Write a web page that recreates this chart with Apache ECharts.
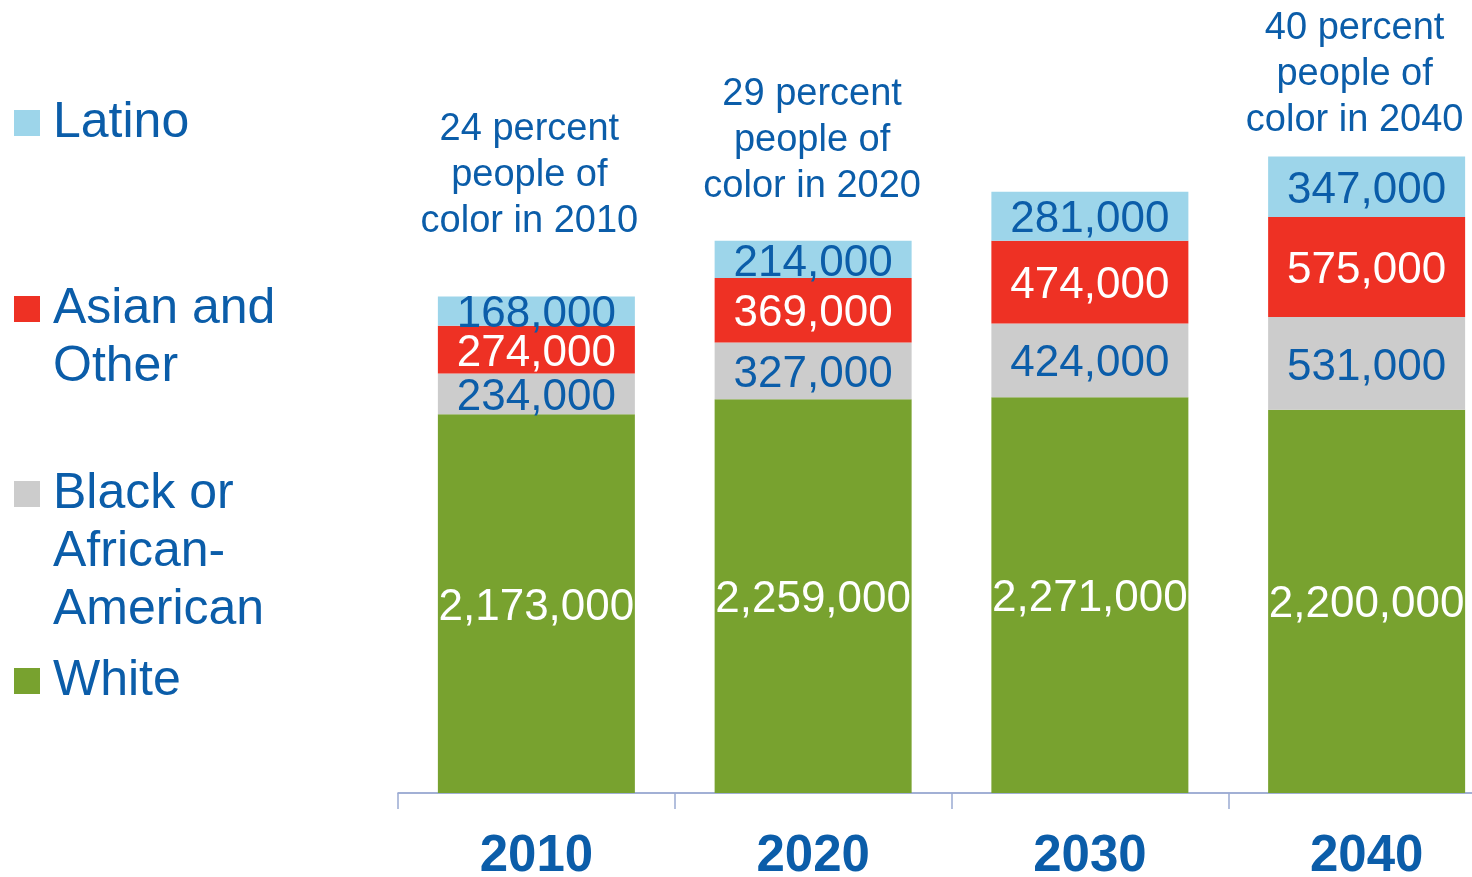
<!DOCTYPE html>
<html>
<head>
<meta charset="utf-8">
<script src="https://cdn.jsdelivr.net/npm/echarts@6/dist/echarts.min.js"></script>
<style>
html,body{margin:0;padding:0;background:#fff;}
#chart{width:1472px;height:877px;}
</style>
</head>
<body>
<div id="chart"></div>
<script>
const categories = ['2010', '2020', '2030', '2040'];
const seriesNames = ['Latino', 'Asian and\nOther', 'Black or\nAfrican-\nAmerican', 'White'];
const white = [2173000, 2259000, 2271000, 2200000];
const black = [234000, 327000, 424000, 531000];
const asian = [274000, 369000, 474000, 575000];
const latino = [168000, 214000, 281000, 347000];
const annotations = ['24 percent\npeople of\ncolor in 2010', '29 percent\npeople of\ncolor in 2020', '', '40 percent\npeople of\ncolor in 2040'];

const BLUE = '#0b5da9';
const FONT = '"Liberation Sans", Arial, sans-serif';
const fmt = p => p.value.toLocaleString('en-US');

const chart = echarts.init(document.getElementById('chart'));

function valueLabel(color) {
  return { show: true, position: 'inside', offset: [0, 4], formatter: fmt, color: color, fontSize: 44, fontFamily: FONT };
}

const annoPos = [
  { distance: 52, offset: [-7, 0] },
  { distance: 31, offset: [-1, 0] },
  { distance: 20, offset: [0, 0] },
  { distance: 13, offset: [-12, 0] }
];

function legendFor(name, top) {
  const lines = name.split('\n').length;
  return {
    top: top, left: 14, orient: 'vertical', padding: 0,
    icon: 'rect', itemWidth: 26, itemHeight: 26,
    selectedMode: false,
    formatter: n => '\n'.repeat(lines - 1) + n,
    textStyle: { color: BLUE, fontSize: 50, lineHeight: 58, fontFamily: FONT, padding: [0, 0, 0, 8] },
    data: [name]
  };
}

const option = {
  animation: false,
  backgroundColor: '#fff',
  legend: [
    legendFor(seriesNames[0], 94),
    legendFor(seriesNames[1], 222),
    legendFor(seriesNames[2], 349),
    legendFor(seriesNames[3], 652)
  ],
  grid: { left: 398, top: 96, width: 1107, height: 697, containLabel: false, outerBoundsMode: 'none' },
  xAxis: {
    type: 'category',
    data: categories,
    axisLine: { show: true, lineStyle: { color: '#8497c8', width: 1.5 } },
    axisTick: { show: true, length: 16, lineStyle: { color: '#9aabd2', width: 1.5 } },
    axisLabel: { color: BLUE, fontSize: 51, fontWeight: 'bold', fontFamily: FONT, margin: 38 }
  },
  yAxis: { type: 'value', min: 0, max: 4000000, show: false, splitLine: { show: false } },
  series: [
    { name: seriesNames[3], type: 'bar', stack: 'total', barWidth: 197, data: white,
      itemStyle: { color: '#78a22f' }, label: valueLabel('#ffffff') },
    { name: seriesNames[2], type: 'bar', stack: 'total', barWidth: 197, data: black,
      itemStyle: { color: '#cccccc' }, label: valueLabel(BLUE) },
    { name: seriesNames[1], type: 'bar', stack: 'total', barWidth: 197, data: asian,
      itemStyle: { color: '#ee3124' }, label: valueLabel('#ffffff') },
    { name: seriesNames[0], type: 'bar', stack: 'total', barWidth: 197, data: latino,
      itemStyle: { color: '#9dd5ea' }, label: valueLabel(BLUE) },
    { name: 'annotation', type: 'bar', stack: 'total', barWidth: 197,
      data: annotations.map((t, i) => ({
        value: 0,
        label: { show: t !== '', distance: annoPos[i].distance, offset: annoPos[i].offset }
      })),
      itemStyle: { color: 'transparent' },
      label: {
        show: true, position: 'top', color: BLUE, fontSize: 38, lineHeight: 46, fontFamily: FONT, align: 'center',
        formatter: p => annotations[p.dataIndex]
      }
    }
  ]
};
chart.setOption(option);
</script>
</body>
</html>
